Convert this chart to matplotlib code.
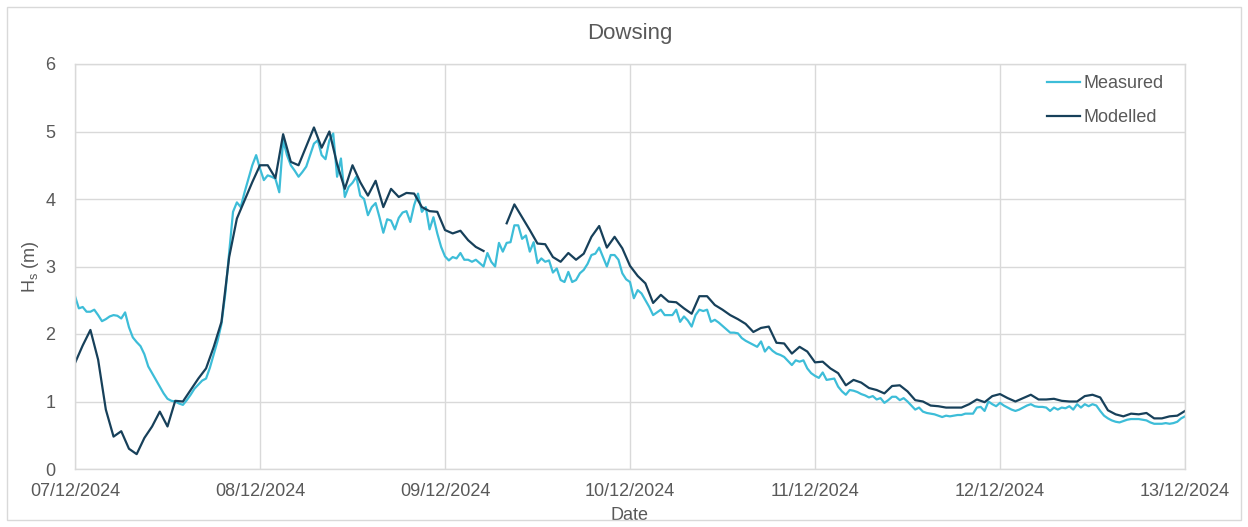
import numpy as np
import matplotlib
matplotlib.use("Agg")
import matplotlib.pyplot as plt
import matplotlib.dates as mdates
from matplotlib.patches import Rectangle

plt.rcParams['font.family'] = ['Liberation Sans', 'DejaVu Sans']

# Significant wave height at Dowsing, 07/12/2024 00:00 to 13/12/2024 00:00
start = np.datetime64('2024-12-07T00:00')

# Measured Hs, every 30 minutes (one list per day)
measured_d1 = [2.56, 2.38, 2.40, 2.33, 2.33, 2.36, 2.28, 2.19, 2.22, 2.26,
               2.28, 2.27, 2.23, 2.32, 2.10, 1.95, 1.88, 1.82, 1.70, 1.52,
               1.42, 1.32, 1.22, 1.12, 1.04, 1.01, 1.00, 0.97, 0.95, 1.02,
               1.10, 1.19, 1.25, 1.31, 1.34, 1.50, 1.70, 1.90, 2.15, 2.60,
               3.20, 3.81, 3.95, 3.88, 4.10, 4.30, 4.50, 4.65]
measured_d2 = [4.45, 4.28, 4.35, 4.33, 4.30, 4.10, 4.87, 4.65, 4.50, 4.42,
               4.33, 4.40, 4.48, 4.65, 4.82, 4.87, 4.65, 4.59, 4.87, 4.97,
               4.33, 4.60, 4.03, 4.18, 4.24, 4.33, 4.05, 4.00, 3.76, 3.88,
               3.94, 3.73, 3.50, 3.70, 3.68, 3.55, 3.72, 3.80, 3.82, 3.66,
               3.91, 4.08, 3.81, 3.88, 3.55, 3.73, 3.49, 3.29]
measured_d3 = [3.15, 3.09, 3.14, 3.12, 3.20, 3.10, 3.10, 3.07, 3.10, 3.05,
               3.00, 3.20, 3.07, 3.00, 3.35, 3.22, 3.35, 3.36, 3.61, 3.61,
               3.41, 3.46, 3.22, 3.36, 3.05, 3.12, 3.07, 3.09, 2.91, 2.97,
               2.80, 2.77, 2.92, 2.77, 2.80, 2.90, 2.95, 3.04, 3.17, 3.19,
               3.28, 3.14, 3.00, 3.17, 3.17, 3.10, 2.90, 2.81]
measured_d4 = [2.77, 2.53, 2.65, 2.60, 2.50, 2.40, 2.28, 2.32, 2.36, 2.28,
               2.28, 2.28, 2.36, 2.18, 2.26, 2.20, 2.11, 2.28, 2.36, 2.34,
               2.36, 2.18, 2.21, 2.17, 2.12, 2.07, 2.02, 2.02, 2.01, 1.94,
               1.90, 1.87, 1.84, 1.81, 1.89, 1.74, 1.81, 1.75, 1.71, 1.69,
               1.66, 1.60, 1.54, 1.61, 1.59, 1.61, 1.49, 1.42]
measured_d5 = [1.38, 1.35, 1.43, 1.32, 1.33, 1.34, 1.22, 1.15, 1.10, 1.17,
               1.16, 1.14, 1.11, 1.09, 1.06, 1.08, 1.03, 1.05, 0.98, 1.02,
               1.07, 1.07, 1.02, 1.05, 1.00, 0.94, 0.88, 0.91, 0.85, 0.83,
               0.82, 0.81, 0.79, 0.77, 0.79, 0.78, 0.79, 0.80, 0.80, 0.82,
               0.82, 0.82, 0.91, 0.92, 0.86, 1.00, 0.96, 0.93]
measured_d6 = [0.98, 0.94, 0.91, 0.88, 0.86, 0.88, 0.91, 0.94, 0.96, 0.93,
               0.92, 0.92, 0.91, 0.86, 0.91, 0.88, 0.91, 0.90, 0.93, 0.88,
               0.96, 0.91, 0.96, 0.93, 0.96, 0.94, 0.86, 0.79, 0.75, 0.72,
               0.70, 0.69, 0.71, 0.73, 0.74, 0.74, 0.74, 0.73, 0.72, 0.69,
               0.67, 0.67, 0.67, 0.68, 0.67, 0.68, 0.70, 0.75, 0.78]

# Modelled Hs, hourly (nan = no model output)
nan = np.nan
modelled_d1 = [1.57, 1.83, 2.06, 1.62, 0.88, 0.48, 0.56, 0.30, 0.22, 0.46,
               0.63, 0.85, 0.63, 1.01, 1.00, 1.17, 1.34, 1.49, 1.81, 2.18,
               3.14, 3.71, 3.98, 4.25]
modelled_d2 = [4.50, 4.50, 4.31, 4.96, 4.55, 4.50, 4.78, 5.06, 4.76, 5.00,
               4.52, 4.15, 4.50, 4.25, 4.05, 4.27, 3.88, 4.15, 4.03, 4.09,
               4.08, 3.88, 3.82, 3.81]
modelled_d3 = [3.54, 3.49, 3.53, 3.39, 3.29, 3.23, nan, nan, 3.64, 3.92,
               3.73, 3.54, 3.34, 3.33, 3.14, 3.07, 3.20, 3.10, 3.19, 3.44,
               3.60, 3.28, 3.44, 3.27]
modelled_d4 = [3.01, 2.86, 2.75, 2.46, 2.58, 2.48, 2.47, 2.38, 2.30, 2.56,
               2.56, 2.43, 2.36, 2.28, 2.22, 2.15, 2.03, 2.09, 2.11, 1.87,
               1.86, 1.71, 1.81, 1.74]
modelled_d5 = [1.58, 1.59, 1.49, 1.42, 1.24, 1.32, 1.28, 1.20, 1.17, 1.12,
               1.23, 1.24, 1.15, 1.02, 1.00, 0.94, 0.93, 0.91, 0.91, 0.91,
               0.96, 1.03, 0.99, 1.08]
modelled_d6 = [1.11, 1.05, 1.00, 1.05, 1.10, 1.03, 1.03, 1.04, 1.01, 1.00,
               1.00, 1.08, 1.10, 1.06, 0.87, 0.81, 0.78, 0.82, 0.81, 0.83,
               0.75, 0.75, 0.78, 0.79, 0.86]

measured = np.array(measured_d1 + measured_d2 + measured_d3 +
                    measured_d4 + measured_d5 + measured_d6)
modelled = np.array(modelled_d1 + modelled_d2 + modelled_d3 +
                    modelled_d4 + modelled_d5 + modelled_d6)

t_meas = start + np.arange(len(measured)) * np.timedelta64(30, 'm')
t_mod = start + np.arange(len(modelled)) * np.timedelta64(60, 'm')

C_MEAS = '#3DBDD8'
C_MOD = '#17405A'
GRID = '#D9D9D9'
TXT = '#595959'

W, H = 1248, 527
fig = plt.figure(figsize=(W / 100, H / 100), dpi=100)
fig.patches.append(Rectangle((7 / W, 7 / H), 1234 / W, 513 / H,
                             transform=fig.transFigure, fill=False,
                             edgecolor=GRID, linewidth=1.0))

ax = fig.add_axes([75 / W, 1 - 469 / H, 1110 / W, 405 / H])
ax.plot(t_meas, measured, color=C_MEAS, lw=1.6, label='Measured')
ax.plot(t_mod, modelled, color=C_MOD, lw=1.6, label='Modelled')

ax.set_xlim(start, start + np.timedelta64(6, 'D'))
ax.set_ylim(0, 6)
ax.set_yticks(range(0, 7))
ax.xaxis.set_major_locator(mdates.DayLocator())
ax.xaxis.set_major_formatter(mdates.DateFormatter('%d/%m/%Y'))

ax.grid(True, color=GRID, lw=1.0)
ax.set_axisbelow(True)
for s in ax.spines.values():
    s.set_color(GRID)
    s.set_linewidth(1.0)
ax.tick_params(length=0, labelsize=13, labelcolor=TXT)
ax.tick_params(axis='x', pad=10)
ax.tick_params(axis='y', pad=14)

ax.set_title('Dowsing', fontsize=16, color=TXT, pad=18)
ax.set_xlabel('Date', fontsize=13, color=TXT, labelpad=5)
ax.set_ylabel(r'H$_\mathregular{s}$ (m)', fontsize=13, color=TXT, labelpad=3)

leg = ax.legend(loc='upper right', bbox_to_anchor=(0.995, 1.012), frameon=False,
                fontsize=13, handlelength=1.85, handletextpad=0.15,
                labelspacing=0.92)
for txt in leg.get_texts():
    txt.set_color(TXT)

fig.savefig('out.png', dpi=100, facecolor='white')
